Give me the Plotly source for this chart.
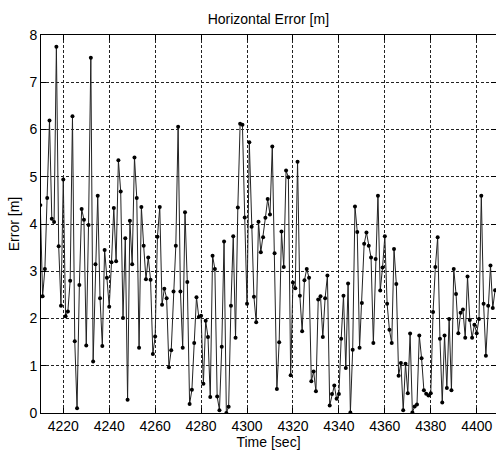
import plotly.graph_objects as go

# Time stamps [sec] (one sample per second) and horizontal error [m]
t_start = 4210
error_m = [
    4.4, 2.47, 3.05, 4.55, 6.19, 4.11, 4.04, 7.75, 3.53, 2.27,
    4.94, 2.05, 2.15, 2.8, 6.28, 1.52, 0.1, 2.71, 4.32, 4.09,
    1.43, 3.98, 7.52, 1.09, 3.15, 4.6, 2.43, 1.42, 3.45, 2.86,
    2.25, 3.19, 4.34, 3.21, 5.35, 4.69, 2.01, 3.7, 0.28, 4.07,
    3.15, 5.41, 4.55, 1.38, 4.36, 3.54, 2.83, 3.29, 2.82, 1.25,
    1.62, 3.73, 4.36, 2.29, 2.63, 2.43, 0.97, 1.33, 2.57, 3.54,
    6.06, 2.57, 1.38, 4.25, 2.77, 0.19, 0.49, 1.48, 2.45, 2.03,
    2.06, 0.62, 1.95, 1.61, 0.34, 3.33, 3.05, 0.35, 0.06, 1.40,
    3.63, 0.0, 0.13, 2.27, 3.74, 1.59, 4.35, 6.12, 6.10, 4.14,
    2.31, 5.73, 3.94, 2.46, 1.92, 4.05, 3.40, 3.72, 4.13, 4.53,
    4.2, 5.64, 3.38, 0.51, 1.5, 3.84, 3.09, 5.13, 4.99, 0.8,
    2.76, 2.64, 5.32, 2.48, 1.73, 2.81, 3.05, 2.86, 0.67, 0.88,
    0.46, 2.4, 2.47, 1.61, 2.43, 2.91, 0.16, 0.4, 0.58, 0.3,
    0.4, 1.57, 2.48, 0.95, 2.74, 0.01, 1.34, 4.37, 3.83, 1.38,
    2.33, 3.58, 3.82, 3.54, 3.29, 1.48, 3.26, 4.6, 2.59, 3.08,
    3.74, 2.31, 1.76, 1.48, 3.47, 2.73, 0.79, 1.06, 0.06, 1.04,
    0.42, 1.68, 0.01, 0.14, 0.18, 1.64, 1.16, 0.48, 0.41, 0.37,
    0.42, 2.14, 3.09, 3.72, 1.57, 0.22, 1.64, 0.53, 1.99, 0.48,
    3.05, 2.52, 1.69, 2.12, 2.19, 1.59, 2.89, 1.97, 1.59, 1.87,
    1.69, 1.99, 4.6, 2.31, 1.21, 2.27, 3.12, 2.22, 2.6,
]
time_sec = [t_start + i for i in range(len(error_m))]

x_ticks = list(range(4220, 4401, 20))
y_ticks = list(range(0, 9))

FONT = "Liberation Sans, Arial, sans-serif"

fig = go.Figure()
fig.add_trace(go.Scatter(
    x=time_sec, y=error_m,
    mode="lines+markers",
    line=dict(color="#222222", width=1),
    marker=dict(color="black", size=4),
    showlegend=False,
))

axis_common = dict(
    showline=True, linecolor="black", linewidth=1, mirror="ticks",
    ticks="inside", ticklen=5, tickcolor="black", tickwidth=1,
    showgrid=True, gridcolor="#222222", gridwidth=1, griddash="3px,2px",
    zeroline=False,
    tickfont=dict(family=FONT, size=14, color="black"),
)

fig.update_layout(
    width=496, height=450,
    margin=dict(l=41, r=0, t=35, b=37),
    paper_bgcolor="white", plot_bgcolor="white",
    font=dict(family=FONT, size=14, color="black"),
    title=dict(text="Horizontal Error [m]", x=0.541, y=1 - 19 / 450,
               xanchor="center", yanchor="middle",
               font=dict(family=FONT, size=14, color="black")),
    xaxis=dict(range=[4210.3, 4408.4], tickvals=x_ticks,
               title=dict(text="Time [sec]", standoff=4,
                          font=dict(family=FONT, size=14, color="black")),
               **axis_common),
    yaxis=dict(range=[0, 8], tickvals=y_ticks,
               title=dict(text="Error [m]", standoff=6,
                          font=dict(family=FONT, size=14, color="black")),
               **axis_common),
)

fig.write_html("out.html")
